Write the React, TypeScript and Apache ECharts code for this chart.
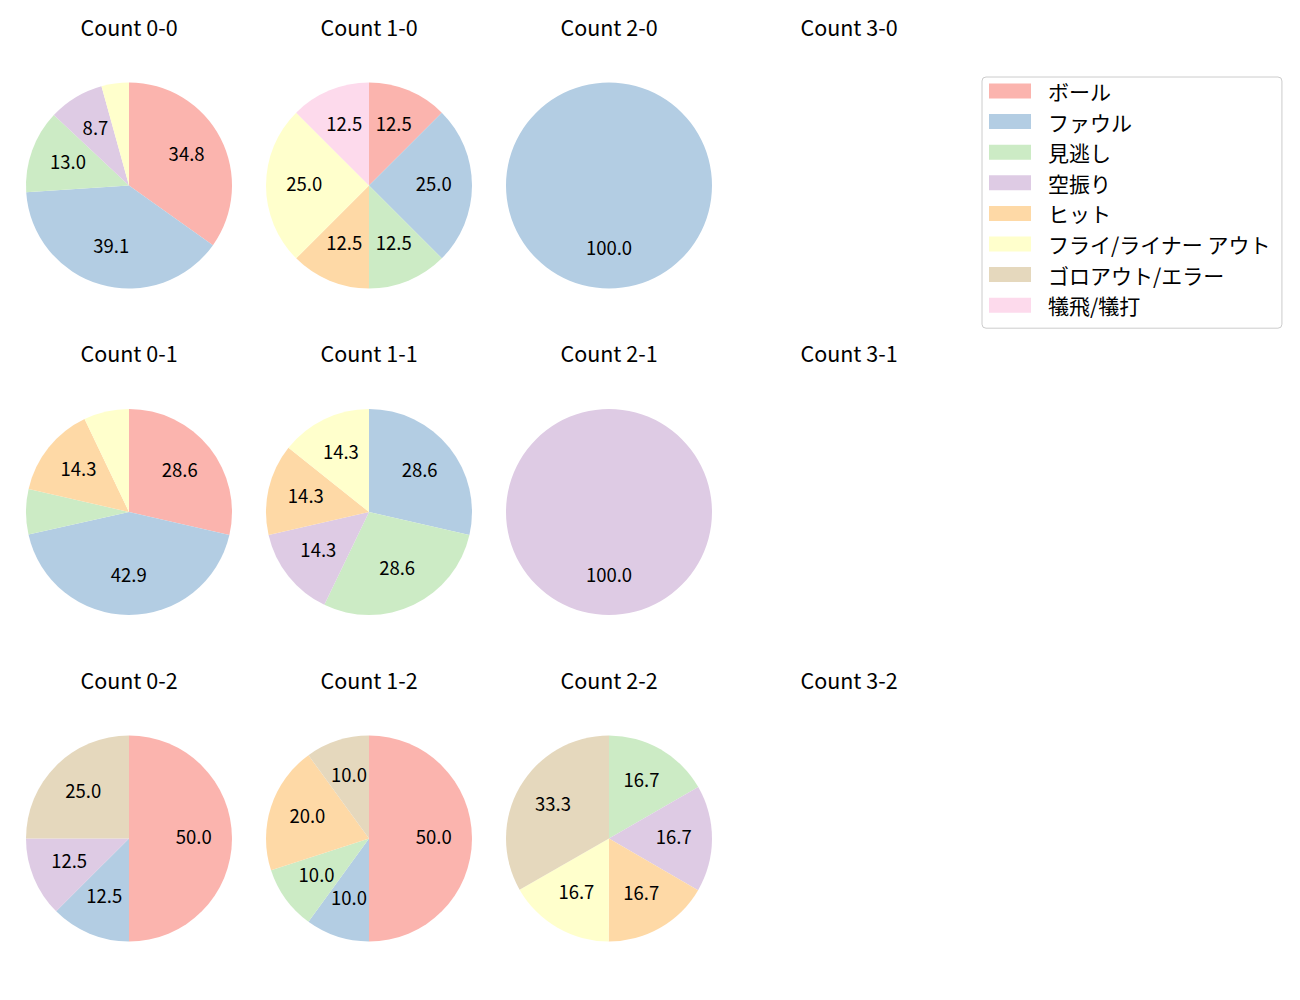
import React, { useEffect, useRef } from "react";
import * as echarts from "echarts";

const categories = [
  "ボール",
  "ファウル",
  "見逃し",
  "空振り",
  "ヒット",
  "フライ/ライナー アウト",
  "ゴロアウト/エラー",
  "犠飛/犠打",
];
const colors = ["#fbb4ae", "#b3cde3", "#ccebc5", "#decbe4", "#fed9a6", "#ffffcc", "#e5d8bd", "#fddaec"];

// percentages per panel, in category order
const count00 = [34.8, 39.1, 13.0, 8.7, 0, 4.3, 0, 0];
const count10 = [12.5, 25.0, 12.5, 0, 12.5, 25.0, 0, 12.5];
const count20 = [0, 100, 0, 0, 0, 0, 0, 0];
const count30: number[] = [];
const count01 = [28.6, 42.9, 7.1, 0, 14.3, 7.1, 0, 0];
const count11 = [0, 28.6, 28.6, 14.3, 14.3, 14.3, 0, 0];
const count21 = [0, 0, 0, 100, 0, 0, 0, 0];
const count31: number[] = [];
const count02 = [50.0, 12.5, 0, 12.5, 0, 0, 25.0, 0];
const count12 = [50.0, 10.0, 10.0, 0, 20.0, 0, 10.0, 0];
const count22 = [0, 0, 16.7, 16.7, 16.7, 16.7, 33.3, 0];
const count32: number[] = [];

const panelTitles = [
  ["Count 0-0", "Count 1-0", "Count 2-0", "Count 3-0"],
  ["Count 0-1", "Count 1-1", "Count 2-1", "Count 3-1"],
  ["Count 0-2", "Count 1-2", "Count 2-2", "Count 3-2"],
];
const panelData = [
  [count00, count10, count20, count30],
  [count01, count11, count21, count31],
  [count02, count12, count22, count32],
];

const FONT = "'Noto Sans CJK JP', 'Noto Sans', sans-serif";

export default function App() {
  const ref = useRef<HTMLDivElement>(null);
  useEffect(() => {
    if (!ref.current) return;
    const chart = echarts.init(ref.current, undefined, { renderer: "svg" });
    const colX = [129, 369, 609, 849];
    const rowY = [185.5, 512, 838.5];
    const R = 103;
    const titles: any[] = [];
    const series: any[] = [];
    panelTitles.forEach((row, r) =>
      row.forEach((t, c) => {
        titles.push({
          text: t,
          left: colX[c],
          top: rowY[r] - 170,
          textAlign: "center",
          padding: 0,
          textStyle: { fontFamily: FONT, fontSize: 21.5, fontWeight: "normal", color: "#000" },
        });
        const vals = panelData[r][c];
        const data = vals
          .map((v, i) => ({ name: categories[i], value: v, itemStyle: { color: colors[i] } }))
          .filter((d) => d.value > 0);
        if (!data.length) return;
        series.push({
          type: "pie",
          center: [colX[c], rowY[r]],
          radius: [0, R],
          startAngle: 90,
          clockwise: true,
          avoidLabelOverlap: false,
          label: { show: false },
          labelLine: { show: false },
          itemStyle: { borderWidth: 0 },
          emphasis: { disabled: true },
          data,
        });
        series.push({
          type: "pie",
          silent: true,
          center: [colX[c], rowY[r]],
          radius: [R * 0.2, R],
          startAngle: 90,
          clockwise: true,
          avoidLabelOverlap: false,
          labelLine: { show: false },
          emphasis: { disabled: true },
          label: {
            show: true,
            position: "inside",
            offset: [0, -3],
            fontFamily: FONT,
            fontSize: 18.5,
            color: "#000",
            formatter: (p: any) => (p.value >= 8 ? Number(p.value).toFixed(1) : ""),
          },
          itemStyle: { color: "rgba(0,0,0,0)", borderWidth: 0 },
          data: data.map((d) => ({ name: d.name, value: d.value })),
        });
      })
    );
    chart.setOption({
      animation: false,
      backgroundColor: "#fff",
      title: titles,
      legend: {
        orient: "vertical",
        left: 982,
        top: 77,
        icon: "rect",
        itemWidth: 42,
        itemHeight: 15,
        itemGap: 8.6,
        padding: [3, 11, 12, 7],
        borderColor: "#cccccc",
        borderWidth: 1,
        borderRadius: 4,
        selectedMode: false,
        textStyle: { fontFamily: FONT, fontSize: 21, color: "#000", lineHeight: 22, padding: [0, 0, 0, 12] },
        data: categories.map((n, i) => ({ name: n, itemStyle: { color: colors[i] } })),
      },
      series,
    });
    return () => chart.dispose();
  }, []);
  return <div ref={ref} style={{ width: 1300, height: 1000, position: "absolute", left: 0, top: 0 }} />;
}
